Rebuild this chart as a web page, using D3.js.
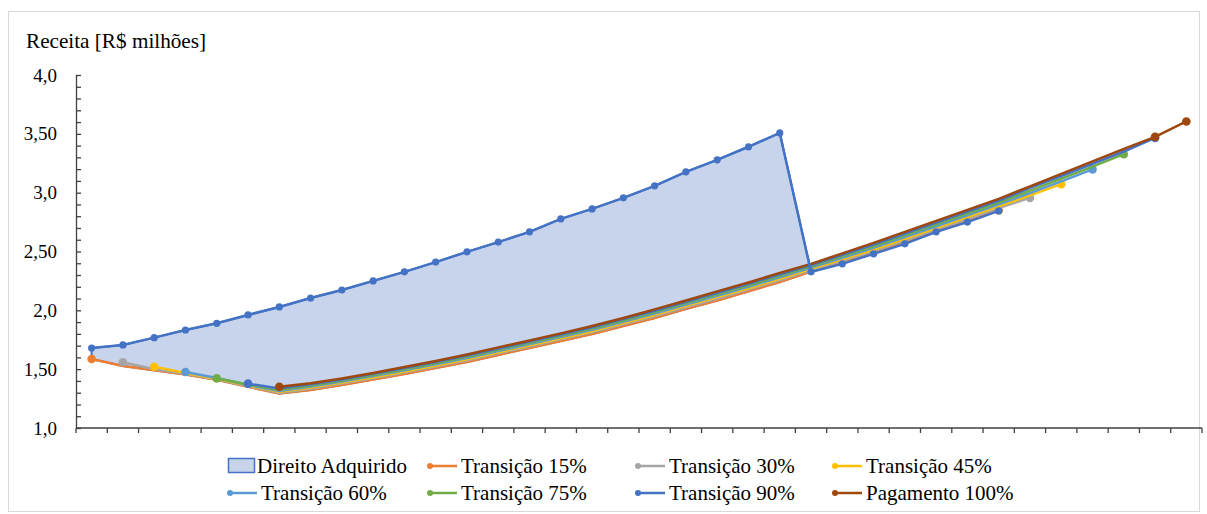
<!DOCTYPE html>
<html><head><meta charset="utf-8">
<script src="https://cdn.jsdelivr.net/npm/d3@7"></script>
<style>body{margin:0;background:#fff}svg{display:block}</style>
</head><body>
<svg id="c" width="1207" height="514"></svg>
<script>
// ---- data ----
const categories = [1,2,3,4,5,6,7,8,9,10,11,12,13,14,15,16,17,18,19,20,21,22,23,24,25,26,27,28,29,30,31,32,33,34,35,36];
const yTickValues = [1.0,1.5,2.0,2.5,3.0,3.5,4.0];
const yTickLabels = ["1,0","1,50","2,0","2,50","3,0","3,50","4,0"];
const yTitle = "Receita [R$ milhões]";
const N = null;
const direitoAdquirido = [1.680,1.706,1.768,1.833,1.890,1.961,2.029,2.105,2.173,2.250,2.327,2.410,2.497,2.580,2.667,2.777,2.862,2.956,3.058,3.177,3.279,3.390,3.508,2.327,2.395,2.480,2.565,2.667,2.750,2.845,N,N,N,N,N,N];
const transicao15 = [1.587,1.527,1.490,1.455,1.410,1.350,1.293,1.323,1.366,1.412,1.459,1.510,1.561,1.621,1.680,1.740,1.799,1.867,1.935,2.012,2.084,2.161,2.241,2.330,2.405,2.486,2.574,2.667,2.757,2.850,N,N,N,N,N,N];
const transicao30 = [N,1.559,1.500,1.460,1.414,1.355,1.300,1.334,1.377,1.423,1.471,1.522,1.574,1.634,1.693,1.753,1.813,1.881,1.950,2.026,2.099,2.176,2.256,2.343,2.421,2.503,2.593,2.686,2.776,2.869,2.956,N,N,N,N,N];
const transicao45 = [N,N,1.521,1.468,1.418,1.360,1.308,1.344,1.386,1.432,1.481,1.532,1.584,1.644,1.703,1.763,1.823,1.891,1.961,2.038,2.112,2.188,2.269,2.353,2.433,2.517,2.607,2.700,2.792,2.885,2.977,3.072,N,N,N,N];
const transicao60 = [N,N,N,1.476,1.425,1.365,1.315,1.353,1.395,1.441,1.490,1.541,1.594,1.654,1.713,1.773,1.834,1.902,1.973,2.049,2.124,2.201,2.281,2.364,2.446,2.531,2.622,2.715,2.807,2.900,2.996,3.096,3.198,N,N,N];
const transicao75 = [N,N,N,N,1.422,1.370,1.322,1.362,1.403,1.450,1.500,1.551,1.605,1.665,1.724,1.784,1.845,1.913,1.985,2.061,2.136,2.213,2.293,2.374,2.459,2.545,2.637,2.730,2.823,2.916,3.018,3.120,3.222,3.327,N,N];
const transicao90 = [N,N,N,N,N,1.377,1.335,1.371,1.413,1.460,1.510,1.561,1.615,1.675,1.734,1.794,1.857,1.925,1.997,2.073,2.149,2.226,2.306,2.385,2.472,2.560,2.653,2.746,2.839,2.932,3.040,3.142,3.246,3.350,3.465,N];
const pagamento100 = [N,N,N,N,N,N,1.351,1.380,1.421,1.468,1.519,1.570,1.625,1.685,1.744,1.804,1.867,1.935,2.008,2.084,2.161,2.237,2.318,2.395,2.484,2.573,2.667,2.760,2.854,2.947,3.054,3.160,3.266,3.372,3.474,3.605];
const seriesNames = ["Transição 15%","Transição 30%","Transição 45%","Transição 60%","Transição 75%","Transição 90%","Pagamento 100%"];
const areaName = "Direito Adquirido";

// ---- style ----
const seriesValues = [transicao15,transicao30,transicao45,transicao60,transicao75,transicao90,pagamento100];
const colors = ["#ED7D31","#A5A5A5","#FFC000","#5B9BD5","#70AD47","#4472C4","#9E480E"];
const areaStroke = "#4472C4", areaFill = "#C7D4EC";
const FONT = '"Liberation Serif"';

const svg = d3.select("#c");
const m = {left:76, right:1202, top:75, bottom:428};
const x = d3.scaleBand().domain(categories).range([m.left, m.right]);
const cx = c => x(c) + x.bandwidth()/2;
const y = d3.scaleLinear().domain([1,4]).range([m.bottom, m.top]);

// frame
svg.append("rect").attr("x",8.5).attr("y",11.5).attr("width",1191).attr("height",500)
  .attr("fill","none").attr("stroke","#d9d9d9");

// y title
svg.append("text").attr("x",26).attr("y",48).style("font-family",FONT).style("font-size","21.2px")
  .attr("fill","#000").text(yTitle);

// y axis
const yMinor = d3.range(10,41).map(v=>v/10);
const yAxis = d3.axisRight(y).tickValues(yMinor).tickSize(5).tickFormat("");
const gy = svg.append("g").attr("transform",`translate(${m.left},0)`).call(yAxis);
gy.selectAll("path,line").attr("stroke","#404040").attr("stroke-width",1.3);
gy.select(".domain").attr("d",`M0.5,${y(4)}V${y(1)}`);
svg.append("g").selectAll("text").data(yTickValues).join("text")
  .attr("x",57).attr("y",d=>y(d)).attr("dy","0.35em").attr("text-anchor","end")
  .style("font-family",FONT).style("font-size","19px").attr("fill","#000")
  .text((d,i)=>yTickLabels[i]);

// x axis
const gx = svg.append("g").attr("transform",`translate(0,${m.bottom})`);
gx.append("line").attr("x1",m.left).attr("x2",m.right).attr("stroke","#404040").attr("stroke-width",1.3);
gx.selectAll("line.t").data(categories.concat(["end"])).join("line").attr("class","t")
  .attr("x1",(d,i)=> i<categories.length ? x(d) : m.right)
  .attr("x2",(d,i)=> i<categories.length ? x(d) : m.right)
  .attr("y1",0).attr("y2",5).attr("stroke","#404040").attr("stroke-width",1.3);

// area Direito Adquirido
const areaIdx = d3.range(0,24);
const area = d3.area().x(i=>cx(categories[i])).y0(i=>y(transicao15[i])).y1(i=>y(direitoAdquirido[i]));
svg.append("path").attr("d",area(areaIdx)).attr("fill",areaFill).attr("stroke",areaStroke).attr("stroke-width",2);

// transition lines
const line = d3.line().defined(d=>d.v!=null).x(d=>cx(d.c)).y(d=>y(d.v));
seriesValues.forEach((vals,k)=>{
  const pts = categories.map((c,i)=>({c, v:vals[i]}));
  svg.append("path").attr("d",line(pts)).attr("fill","none").attr("stroke",colors[k])
    .attr("stroke-width",2.5).attr("stroke-linejoin","round");
  const valid = pts.filter(p=>p.v!=null);
  let mk = [valid[0], valid[valid.length-1]];
  if (k===6) mk = [valid[0], valid[valid.length-2], valid[valid.length-1]];
  svg.append("g").selectAll("circle").data(mk).join("circle")
    .attr("cx",d=>cx(d.c)).attr("cy",d=>y(d.v)).attr("r",4.3).attr("fill",colors[k]);
});

// Direito Adquirido line with markers
const dpts = categories.map((c,i)=>({c, v:direitoAdquirido[i]}));
svg.append("path").attr("d",line(dpts)).attr("fill","none").attr("stroke",areaStroke).attr("stroke-width",2.5);
svg.append("g").selectAll("circle").data(dpts.filter(p=>p.v!=null)).join("circle")
  .attr("cx",d=>cx(d.c)).attr("cy",d=>y(d.v)).attr("r",3.6).attr("fill",areaStroke);

// legend
const lg = svg.append("g");
const colX = [228, 430, 638, 835];
const rowY = [466, 493];
lg.append("rect").attr("x",colX[0]+0.5).attr("y",rowY[0]-7.5).attr("width",26).attr("height",14)
  .attr("fill",areaFill).attr("stroke",areaStroke).attr("stroke-width",1.5);
lg.append("text").attr("x",colX[0]+29).attr("y",rowY[0]).attr("dy","0.35em")
  .style("font-family",FONT).style("font-size","21px").text(areaName);
seriesNames.forEach((name,k)=>{
  const pos = k+1, col = pos%4, row = Math.floor(pos/4);
  const x0 = colX[col] + (col===0?2:0), yy = rowY[row];
  lg.append("line").attr("x1",x0).attr("x2",x0+27).attr("y1",yy).attr("y2",yy)
    .attr("stroke",colors[k]).attr("stroke-width",2.5);
  lg.append("circle").attr("cx",x0).attr("cy",yy).attr("r",3).attr("fill",colors[k]);
  lg.append("text").attr("x",x0+31).attr("y",yy).attr("dy","0.35em")
    .style("font-family",FONT).style("font-size","21px").text(name);
});
</script>
</body></html>
